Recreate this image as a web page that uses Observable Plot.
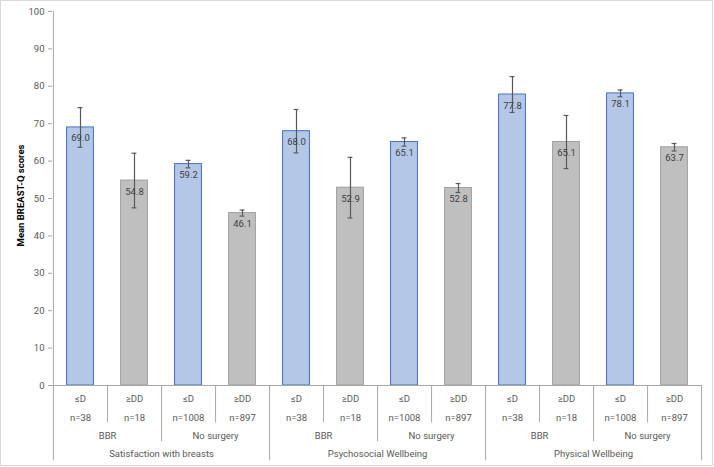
<!DOCTYPE html>
<html>
<head>
<meta charset="utf-8">
<script src="https://cdn.jsdelivr.net/npm/d3@7"></script>
<script src="https://cdn.jsdelivr.net/npm/@observablehq/plot@0.6"></script>
<style>
  html, body { margin: 0; padding: 0; background: #fff; }
  #wrap { position: relative; width: 714px; height: 467px; }
  #wrap svg { position: absolute; left: 0; top: 0; }
  #border { position: absolute; left: 0; top: 0; width: 713px; height: 466px; box-sizing: border-box; border: 1px solid #d9d9d9; pointer-events: none; }
</style>
</head>
<body>
<div id="wrap"><div id="border"></div></div>
<script>
// ---- data ----
const measures = ["Satisfaction with breasts", "Psychosocial Wellbeing", "Physical Wellbeing"];
const surgeries = ["BBR", "No surgery"];
const sizes = ["≤D", "≥DD"];
const nLabels = [["n=38", "n=18"], ["n=1008", "n=897"]];
const means = [69.0, 54.8, 59.2, 46.1, 68.0, 52.9, 65.1, 52.8, 77.8, 65.1, 78.1, 63.7];
const errors = [5.3, 7.3, 1.0, 0.8, 5.8, 8.1, 1.1, 1.2, 4.8, 7.1, 0.9, 1.0];
const yTicks = [0, 10, 20, 30, 40, 50, 60, 70, 80, 90, 100];
const yLabel = "Mean BREAST-Q scores";

// ---- table ----
const rows = [];
measures.forEach((m, mi) => surgeries.forEach((s, si) => sizes.forEach((z, zi) => {
  const i = rows.length;
  rows.push({key: `${mi}-${si}-${zi}`, measure: m, surgery: s, size: z, n: nLabels[si][zi],
             mi, si, zi, mean: means[i], err: errors[i]});
})));
rows.forEach((d, i) => {
  const next = rows[i + 1];
  d.depth = !next || next.mi !== d.mi ? -20 : next.si !== d.si ? -15 : -10;
});

const W = 714, H = 467, mL = 52, mR = 12, mT = 11, mB = 82;
const bw = (W - mL - mR) / rows.length;
const capInset = (bw - 5) / 2;
const barInset = (bw - 27) / 2;
const axisGray = "#a6a6a6";
const textGray = "#595959";

const chart = Plot.plot({
  width: W, height: H,
  marginLeft: mL, marginRight: mR, marginTop: mT, marginBottom: mB,
  style: {fontFamily: "Roboto, sans-serif", fontSize: "9.5px", background: "transparent", overflow: "visible"},
  x: {domain: rows.map(d => d.key), padding: 0, axis: null},
  y: {domain: [0, 100], axis: null},
  marks: [
    Plot.barY(rows, {x: "key", y: "mean", insetLeft: barInset, insetRight: barInset,
      fill: d => d.zi === 0 ? "#b4c7e7" : "#bfbfbf",
      stroke: d => d.zi === 0 ? "#4472c4" : "#a0a0a0", strokeWidth: 1}),
    Plot.ruleX(rows, {x: "key", y1: d => d.mean - d.err, y2: d => d.mean + d.err, stroke: "#595959", strokeWidth: 1.2}),
    Plot.tickY(rows, {x: "key", y: d => d.mean - d.err, insetLeft: capInset, insetRight: capInset, stroke: "#595959", strokeWidth: 1.2}),
    Plot.tickY(rows, {x: "key", y: d => d.mean + d.err, insetLeft: capInset, insetRight: capInset, stroke: "#595959", strokeWidth: 1.2}),
    Plot.text(rows, {x: "key", y: "mean", text: d => d.mean.toFixed(1), dy: 11, fill: "#404040", fontSize: 9.5}),
    // axes and frame lines
    Plot.ruleY([0], {stroke: axisGray}),
    Plot.axisY({ticks: yTicks, tickSize: 4, tickPadding: 4, stroke: axisGray, fill: textGray, label: null, fontSize: 9.5}),
    Plot.ruleX(rows.slice(0, 1), {x: "key", y1: 100, y2: -20, dx: -bw / 2, stroke: axisGray}),
    Plot.ruleX(rows, {x: "key", y1: 0, y2: "depth", dx: bw / 2, stroke: axisGray}),
    // category labels
    Plot.text(rows, {x: "key", y: -3.5, text: "size", fill: textGray}),
    Plot.text(rows, {x: "key", y: -8.55, text: "n", fill: textGray}),
    Plot.text(rows.filter(d => d.zi === 0), {x: "key", y: -13.6, dx: bw / 2, text: "surgery", fill: textGray}),
    Plot.text(rows.filter(d => d.si === 0 && d.zi === 1), {x: "key", y: -18.4, dx: bw / 2, text: "measure", fill: textGray}),
    Plot.text([yLabel], {frameAnchor: "left", textAnchor: "middle", lineAnchor: "middle", rotate: -90, dx: -32, dy: -3, fontWeight: "bold", fill: "#000", fontSize: 9.5})
  ]
});
document.getElementById("wrap").prepend(chart);
</script>
</body>
</html>
